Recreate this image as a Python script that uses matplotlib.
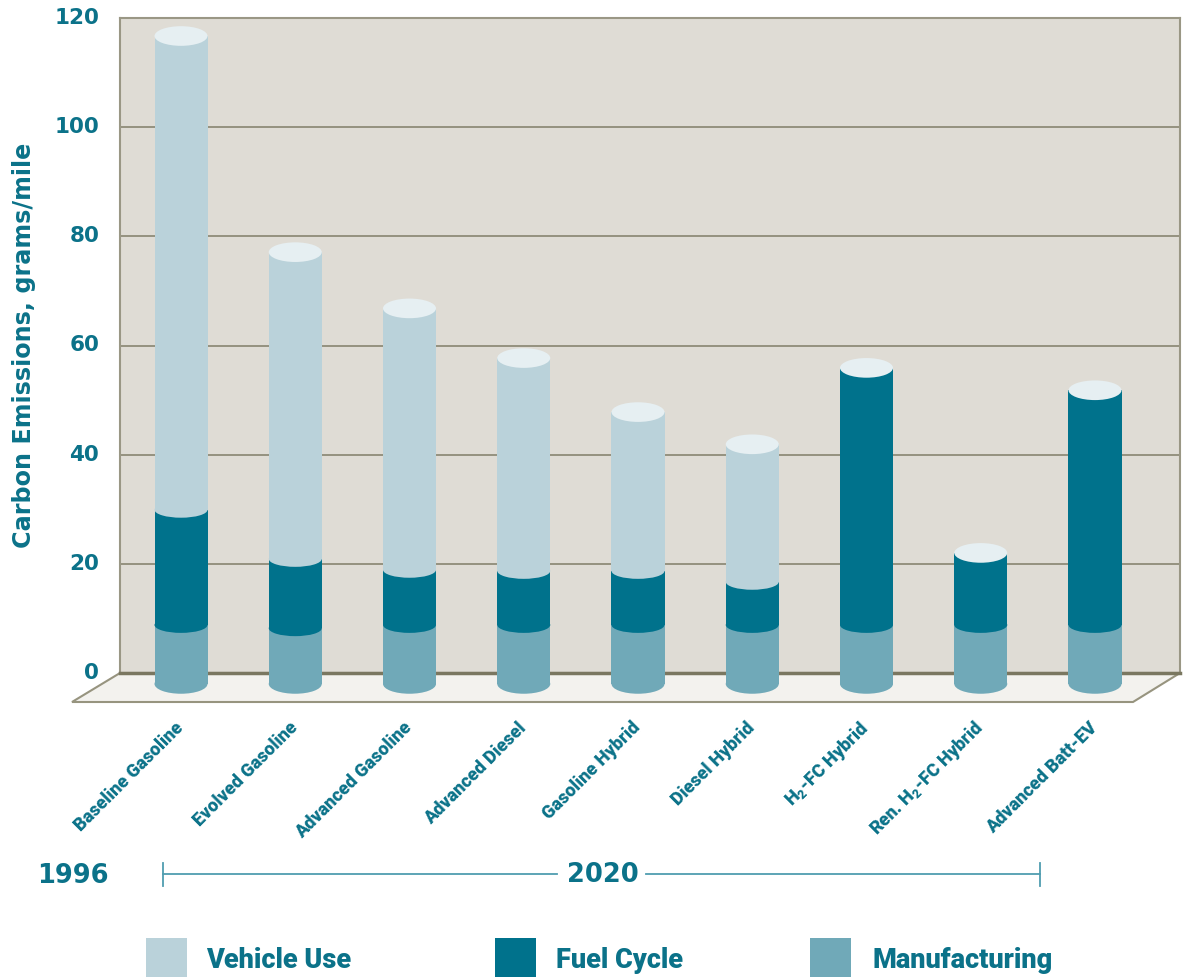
import numpy as np
import matplotlib
matplotlib.use('Agg')
import matplotlib.pyplot as plt
from matplotlib.lines import Line2D
from matplotlib.patches import Ellipse, Polygon, Rectangle
from matplotlib.transforms import ScaledTranslation

# grams/mile per vehicle, stacked bottom to top
vehicles = ['Baseline Gasoline', 'Evolved Gasoline', 'Advanced Gasoline',
            'Advanced Diesel', 'Gasoline Hybrid', 'Diesel Hybrid',
            'H$_2$-FC Hybrid', 'Ren. H$_2$-FC Hybrid', 'Advanced Batt-EV']
manufacturing = [8.8, 8.2, 8.8, 8.8, 8.8, 8.8, 8.8, 8.8, 8.8]
fuel_cycle = [21.1, 12.7, 10.1, 9.9, 9.9, 7.9, 47.1, 13.2, 43.0]
vehicle_use = [86.8, 56.2, 47.9, 39.0, 29.1, 25.2, 0, 0, 0]
y_ticks = [0, 20, 40, 60, 80, 100, 120]

TEAL = '#0b7289'
C_USE = '#bad2da'
C_FUEL = '#00728c'
C_MANU = '#70a9b8'
C_TOP = '#e6eff2'

W, H = 1186, 977
plt.rcParams['mathtext.default'] = 'regular'

fig = plt.figure(figsize=(W / 100, H / 100), dpi=100, facecolor='white')
ax = fig.add_axes([120 / W, 1 - 673 / H, 1060 / W, 655 / H], facecolor='#dfdcd5')


def fx(px):
    return px / W


def fy(py):
    return 1 - py / H


x = np.arange(len(vehicles))
ax.set_xlim(-0.534, 8.744)
ax.set_ylim(0, 120)

bar_w = 0.464
floor_val = -2.0   # the cylinders stand forward of the back wall
cap_h = 3.6
arc_h = 2.9

ax.grid(axis='y', color='#8f8c78', lw=1.3)
ax.set_axisbelow(True)
for side in ['left', 'right', 'top']:
    ax.spines[side].set_color('#9a9785')
    ax.spines[side].set_linewidth(1.5)
ax.spines['bottom'].set_color('#7a7760')
ax.spines['bottom'].set_linewidth(2.5)

# floor in front of the wall
floor = Polygon([(fx(120), fy(673)), (fx(1180), fy(673)), (fx(1133), fy(702)), (fx(72), fy(702))],
                closed=True, transform=fig.transFigure, facecolor='#f3f2ee',
                edgecolor='#97947f', lw=1.5, zorder=1.5, clip_on=False)
ax.add_patch(floor)

for i in x:
    start = floor_val
    stack = [(manufacturing[i] - floor_val, C_MANU, cap_h),
             (fuel_cycle[i], C_FUEL, arc_h),
             (vehicle_use[i], C_USE, arc_h)]
    for height, color, bulge in stack:
        if height == 0:
            continue
        ax.bar(i, height, bar_w, bottom=start, color=color, zorder=3, clip_on=False)
        ax.add_patch(Ellipse((i, start), bar_w, bulge, facecolor=color, edgecolor='none',
                             zorder=3, clip_on=False))
        start += height
    ax.add_patch(Ellipse((i, start), bar_w, cap_h, facecolor=C_TOP, edgecolor='none',
                         zorder=4, clip_on=False))

ax.set_yticks(y_ticks)
ax.set_yticklabels([str(v) for v in y_ticks], fontsize=15.5, fontweight='bold', color=TEAL,
                   family='DejaVu Sans')
ax.tick_params(axis='y', length=0, pad=15)
# numbers sit a little above their gridlines
for lbl in ax.get_yticklabels():
    lbl.set_transform(lbl.get_transform() + ScaledTranslation(0, 1.5 / 72, fig.dpi_scale_trans))
ax.set_xticks(x)
ax.set_xticklabels(vehicles, rotation=45, ha='right', va='center', rotation_mode='anchor',
                   fontsize=13, fontweight='black', color=TEAL, family='Roboto')
ax.tick_params(axis='x', length=0, pad=37.5)

fig.text(fx(24), fy(345), 'Carbon Emissions, grams/mile', rotation=90, ha='center', va='center',
         fontsize=17.2, fontweight='bold', color=TEAL, family='DejaVu Sans')

# time span under the categories
fig.text(fx(73), fy(876), '1996', ha='center', va='center', fontsize=18.5, fontweight='bold',
         color=TEAL, family='DejaVu Sans')
fig.text(fx(603), fy(875), '2020', ha='center', va='center', fontsize=18.5, fontweight='bold',
         color=TEAL, family='DejaVu Sans')
for xs, ys in [((163, 557), (874, 874)), ((646, 1040), (874, 874)),
               ((163, 163), (863, 886)), ((1040, 1040), (863, 886))]:
    fig.add_artist(Line2D([fx(v) for v in xs], [fy(v) for v in ys], color='#4f9db0', lw=1.3))

# legend along the bottom edge
legend_items = [('Vehicle Use', C_USE, 146, 206), ('Fuel Cycle', C_FUEL, 495, 556),
                ('Manufacturing', C_MANU, 810, 872)]
for label, color, box_x, text_x in legend_items:
    fig.add_artist(Rectangle((fx(box_x), 0), 41 / W, 39 / H, transform=fig.transFigure,
                             facecolor=color, edgecolor='none'))
    fig.text(fx(text_x), fy(960), label, ha='left', va='center', fontsize=19.5, fontweight='black',
             color=TEAL, family='Roboto')

fig.savefig('out.png', dpi=100)
